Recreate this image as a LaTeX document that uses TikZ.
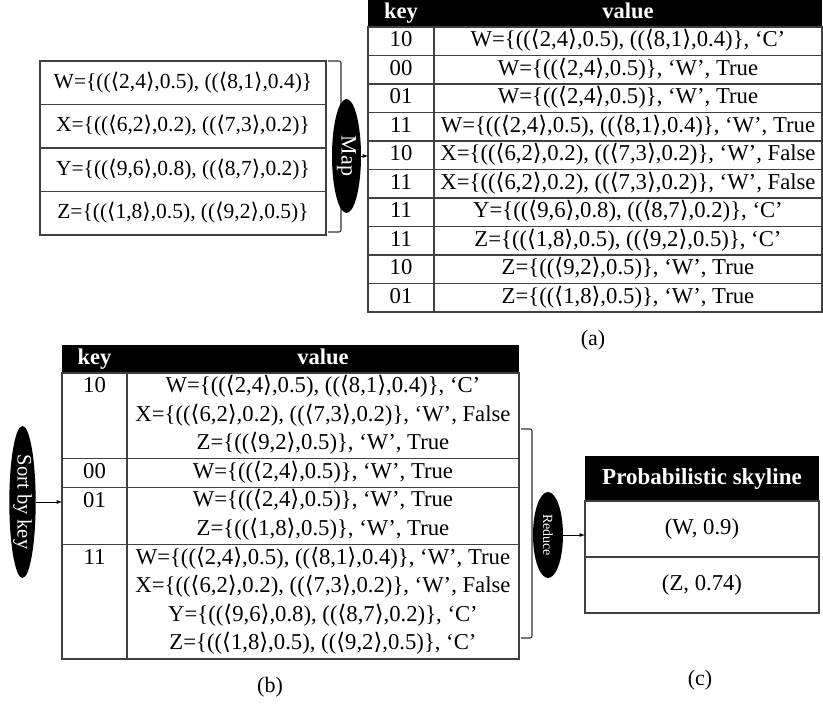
\documentclass[tikz,border=0pt]{standalone}
\usepackage{fontspec}
\setmainfont{Liberation Serif}
\newfontfamily\bracketfont{DejaVu Sans}
\usetikzlibrary{shapes.geometric}

% uncertain objects: instances as (<point>, probability)
\newcommand{\pnt}[1]{{\bracketfont ⟨}#1{\bracketfont ⟩}}
\newcommand{\objW}{W=\{((\pnt{2,4},0.5), ((\pnt{8,1},0.4)\}}
\newcommand{\objWa}{W=\{((\pnt{2,4},0.5)\}}
\newcommand{\objX}{X=\{((\pnt{6,2},0.2), ((\pnt{7,3},0.2)\}}
\newcommand{\objY}{Y=\{((\pnt{9,6},0.8), ((\pnt{8,7},0.2)\}}
\newcommand{\objZ}{Z=\{((\pnt{1,8},0.5), ((\pnt{9,2},0.5)\}}
\newcommand{\objZa}{Z=\{((\pnt{1,8},0.5)\}}
\newcommand{\objZb}{Z=\{((\pnt{9,2},0.5)\}}

\tikzset{
    >=latex,
    grid/.style={draw=black!75, line width=1.1pt},
    obj/.style={font=\fontsize{21.5}{24}\selectfont, inner sep=0pt, text height=15pt, text depth=4.5pt},
    cell/.style={font=\fontsize{22.7}{26}\selectfont, inner sep=0pt, text height=15.5pt, text depth=4.5pt},
    headcell/.style={cell, font=\fontsize{22.5}{26}\selectfont\bfseries, text=white},
    op/.style={ellipse, fill=black, text=white, inner sep=0pt, rotate=-90},
    brace/.style={draw=black!80, line width=1.1pt, rounded corners=2pt},
    caption/.style={font=\fontsize{22}{26}\selectfont, inner sep=0pt}
}

\begin{document}
\begin{tikzpicture}[x=1pt,y=-1pt]
    \useasboundingbox (0,0) rectangle (823,704);

    % input objects
    \draw [grid] (40,61) rectangle (326,235);
    \foreach \y in {104.5,148,191.5}
        \draw [grid] (40,\y) -- (326,\y);
    \node [obj] (inW) at (183,82.75) {\objW};
    \node [obj] (inX) at (183,126.25) {\objX};
    \node [obj] (inY) at (183,169.75) {\objY};
    \node [obj] (inZ) at (183,213.25) {\objZ};

    \draw [brace] (328,61) -- (341,61) -- (341,232) -- (328,232);
    \node [op, minimum width=114pt, minimum height=29pt, font=\fontsize{22}{24}\selectfont] (map) at (346.5,156) {Map};

    % (a) map output
    \fill (368,-1) rectangle (822,27);
    \draw [grid] (368,27) rectangle (822,312);
    \draw [grid] (434,27) -- (434,312);
    \foreach \i in {1,...,9}
        \draw [grid] (368,27+28.5*\i) -- (822,27+28.5*\i);
    \node [headcell] (akey) at (401,13) {key};
    \node [headcell] (aval) at (628,13) {value};
    \foreach \k/\v [count=\i] in {10/{\objW, `C'}, 00/{\objWa, `W', True}, 01/{\objWa, `W', True},
            11/{\objW, `W', True}, 10/{\objX, `W', False}, 11/{\objX, `W', False},
            11/{\objY, `C'}, 11/{\objZ, `C'}, 10/{\objZb, `W', True}, 01/{\objZa, `W', True}} {
        \node [cell] (ka\i) at (401,12.75+28.5*\i) {\k};
        \node [cell] (va\i) at (628,12.75+28.5*\i) {\v};
    }
    \coordinate (ain) at (368,156);
    \draw [->, line width=0.9pt] (map) -- (ain);
    \node [caption] (capa) at (593,340) {(a)};

    % (b) grouped by key
    \fill (62,345) rectangle (519,373);
    \draw [grid] (62,373) rectangle (519,659);
    \draw [grid] (127,373) -- (127,659);
    \foreach \y in {458.8,487.4,544.6}
        \draw [grid] (62,\y) -- (519,\y);
    \node [headcell] (bkey) at (94.5,359) {key};
    \node [headcell] (bval) at (323,359) {value};
    \node [cell] (kb1) at (94.5,387.3) {10};
    \node [cell] (kb4) at (94.5,473.1) {00};
    \node [cell] (kb5) at (94.5,501.7) {01};
    \node [cell] (kb7) at (94.5,558.8) {11};
    \foreach \v [count=\j] in {{\objW, `C'}, {\objX, `W', False}, {\objZb, `W', True},
            {\objWa, `W', True}, {\objWa, `W', True}, {\objZa, `W', True},
            {\objW, `W', True}, {\objX, `W', False}, {\objY, `C'}, {\objZ, `C'}}
        \node [cell] (vb\j) at (323,373+28.55*\j-14.3) {\v};
    \node [op, minimum width=152pt, minimum height=25pt, font=\fontsize{20.5}{24}\selectfont] (sort) at (22.5,502) {Sort by key};
    \coordinate (bin) at (62,502);
    \draw [->, line width=0.9pt] (sort) -- (bin);
    \node [caption] (capb) at (270,687) {(b)};

    \draw [brace] (521,429) -- (532,429) -- (532,638) -- (521,638);
    \node [op, minimum width=86pt, minimum height=30pt, font=\fontsize{14}{16}\selectfont] (reduce) at (548,535) {Reduce};

    % (c) result
    \fill (585,456) rectangle (819,501);
    \draw [grid] (585,501) rectangle (819,613);
    \draw [grid] (585,557) -- (819,557);
    \node [headcell, font=\fontsize{23}{26}\selectfont\bfseries] (sky) at (702,478.5) {Probabilistic skyline};
    \node [cell] (resW) at (702,529) {(W, 0.9)};
    \node [cell] (resZ) at (702,585) {(Z, 0.74)};
    \coordinate (cin) at (585,535);
    \draw [->, line width=0.9pt] (reduce) -- (cin);
    \node [caption] (capc) at (700,680) {(c)};
\end{tikzpicture}
\end{document}
